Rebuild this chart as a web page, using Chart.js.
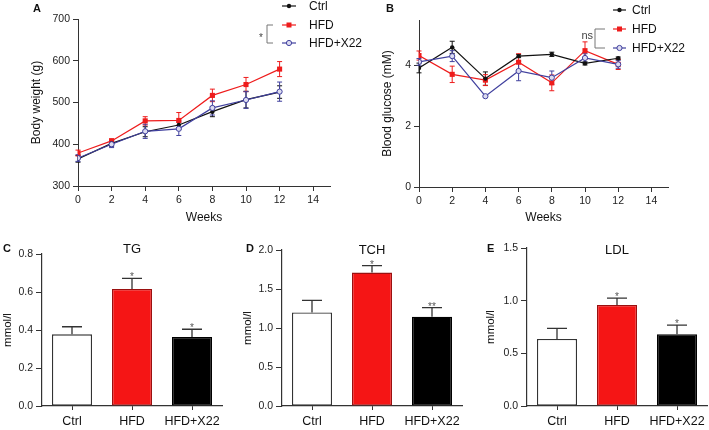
<!DOCTYPE html>
<html lang="en">
<head>
<meta charset="UTF-8">
<title>Body weight, glucose and lipids</title>
<script src="https://cdn.jsdelivr.net/npm/chart.js"></script>
<style>
    body { margin: 0; background: #fff; }
    #wrap { position: relative; width: 709px; height: 430px; background: #fff; overflow: hidden; }
    #wrap canvas { position: absolute; }
</style>
</head>
<body>
<div id="wrap">
    <canvas id="cB" width="364" height="230" style="left:345px;top:0"></canvas>
    <canvas id="cA" width="368" height="230" style="left:0;top:0"></canvas>
    <canvas id="cC" width="240" height="200" style="left:0;top:230px"></canvas>
    <canvas id="cD" width="235" height="200" style="left:240px;top:230px"></canvas>
    <canvas id="cE" width="234" height="200" style="left:475px;top:230px"></canvas>
</div>
<script>
    // --- データ ---
    const weeks = [0, 2, 4, 6, 8, 10, 12];
    const weekTicks = [0, 2, 4, 6, 8, 10, 12, 14];

    // A: body weight (g)
    const bwCtrl = [365, 402, 430, 446, 478, 507, 525];
    const bwCtrlErr = [8, 7, 12, 10, 12, 20, 15];
    const bwHfd = [379, 408, 456, 457, 517, 543, 580];
    const bwHfdErr = [7, 5, 10, 19, 15, 17, 18];
    const bwX22 = [367, 400, 431, 437, 487, 506, 526];
    const bwX22Err = [8, 8, 17, 16, 17, 20, 23];

    // B: blood glucose (mM)
    const bgCtrl = [3.92, 4.60, 3.57, 4.31, 4.37, 4.07, 4.24];
    const bgCtrlErr = [0.16, 0.2, 0.22, 0.05, 0.07, 0.05, 0.04];
    const bgHfd = [4.33, 3.71, 3.52, 4.11, 3.43, 4.49, 4.04];
    const bgHfdErr = [0.15, 0.27, 0.18, 0.28, 0.26, 0.29, 0.17];
    const bgX22 = [4.12, 4.31, 2.99, 3.82, 3.60, 4.25, 4.04];
    const bgX22Err = [0.11, 0.18, 0.03, 0.32, 0.22, 0.14, 0.13];

    // C-E: serum lipids (mmol/l)
    const groups = ['Ctrl', 'HFD', 'HFD+X22'];
    const tgMean = [0.377, 0.616, 0.363];
    const tgErr = [0.04, 0.056, 0.041];
    const tgStars = ['', '*', '*'];
    const tchMean = [1.20, 1.71, 1.145];
    const tchErr = [0.155, 0.09, 0.115];
    const tchStars = ['', '*', '**'];
    const ldlMean = [0.637, 0.96, 0.68];
    const ldlErr = [0.10, 0.064, 0.087];
    const ldlStars = ['', '*', '*'];

    const FONT = '"Liberation Sans", Arial, Helvetica, sans-serif';
    Chart.defaults.font.family = FONT;
    Chart.defaults.color = '#222';

    const AXIS = '#333';
    const RED = '#ee1c1c';
    const BLUE = '#40409e';

    // 装飾（パネル文字・タイトル・凡例）
    const decorSpec = {
        cA: {
            letter: ['A', 33, 9],
            legend: { x0: 282, x1: 296, tx: 309, rows: [6, 25, 43] },
            bracket: { x: 267, x2: 273, y0: 25, y1: 43, text: '*', tx: 263, ty: 38, size: 10 }
        },
        cB: {
            letter: ['B', 41, 9],
            legend: { x0: 268, x1: 281, tx: 287, rows: [10, 29, 48] },
            bracket: { x: 250, x2: 260, y0: 29, y1: 48, text: 'ns', tx: 248, ty: 36, size: 11 }
        },
        cC: { letter: ['C', 3, 19], title: ['TG', 19] },
        cD: { letter: ['D', 6, 19], title: ['TCH', 20] },
        cE: { letter: ['E', 12, 19], title: ['LDL', 20] }
    };

    const legendItems = [
        { label: 'Ctrl', color: '#111', style: 'dot' },
        { label: 'HFD', color: RED, style: 'square' },
        { label: 'HFD+X22', color: BLUE, style: 'open' }
    ];

    function drawMarker(ctx, style, color, x, y) {
        ctx.beginPath();
        if (style === 'square') {
            ctx.fillStyle = color;
            ctx.fillRect(x - 2.5, y - 2.5, 5, 5);
        } else if (style === 'open') {
            ctx.arc(x, y, 2.6, 0, Math.PI * 2);
            ctx.fillStyle = '#dcdcf0';
            ctx.fill();
            ctx.lineWidth = 1;
            ctx.strokeStyle = color;
            ctx.stroke();
        } else {
            ctx.arc(x, y, 2.2, 0, Math.PI * 2);
            ctx.fillStyle = color;
            ctx.fill();
        }
    }

    const decor = {
        id: 'decor',
        afterDraw(chart) {
            const spec = decorSpec[chart.canvas.id];
            if (!spec) return;
            const ctx = chart.ctx;
            ctx.save();
            ctx.textBaseline = 'middle';
            if (spec.letter) {
                ctx.font = 'bold 11px ' + FONT;
                ctx.fillStyle = '#111';
                ctx.textAlign = 'left';
                ctx.fillText(spec.letter[0], spec.letter[1], spec.letter[2]);
            }
            if (spec.title) {
                const a = chart.chartArea;
                ctx.font = '13px ' + FONT;
                ctx.fillStyle = '#111';
                ctx.textAlign = 'center';
                ctx.fillText(spec.title[0], (a.left + a.right) / 2, spec.title[1]);
            }
            if (spec.legend) {
                const L = spec.legend;
                legendItems.forEach((it, i) => {
                    const y = L.rows[i];
                    ctx.strokeStyle = it.color;
                    ctx.lineWidth = 1.2;
                    ctx.beginPath();
                    ctx.moveTo(L.x0, y);
                    ctx.lineTo(L.x1, y);
                    ctx.stroke();
                    drawMarker(ctx, it.style, it.color, (L.x0 + L.x1) / 2, y);
                    ctx.font = '12px ' + FONT;
                    ctx.fillStyle = '#111';
                    ctx.textAlign = 'left';
                    ctx.fillText(it.label, L.tx, y + 0.5);
                });
            }
            if (spec.bracket) {
                const b = spec.bracket;
                ctx.strokeStyle = '#777';
                ctx.lineWidth = 1;
                ctx.beginPath();
                ctx.moveTo(b.x2, b.y0);
                ctx.lineTo(b.x, b.y0);
                ctx.lineTo(b.x, b.y1);
                ctx.lineTo(b.x2, b.y1);
                ctx.stroke();
                ctx.font = b.size + 'px ' + FONT;
                ctx.fillStyle = '#444';
                ctx.textAlign = 'right';
                ctx.fillText(b.text, b.tx, b.ty);
            }
            ctx.restore();
        }
    };

    // エラーバー（折れ線）
    const lineErr = {
        id: 'lineErr',
        beforeDatasetsDraw(chart) {
            if (chart.config.type !== 'line') return;
            const ctx = chart.ctx;
            const ys = chart.scales.y;
            ctx.save();
            chart.data.datasets.forEach((ds, di) => {
                const meta = chart.getDatasetMeta(di);
                ctx.strokeStyle = ds.borderColor;
                ctx.lineWidth = 1;
                meta.data.forEach((pt, i) => {
                    const hi = ys.getPixelForValue(ds.data[i] + ds.errs[i]);
                    const lo = ys.getPixelForValue(ds.data[i] - ds.errs[i]);
                    ctx.beginPath();
                    ctx.moveTo(pt.x, hi);
                    ctx.lineTo(pt.x, lo);
                    ctx.moveTo(pt.x - 2.5, hi);
                    ctx.lineTo(pt.x + 2.5, hi);
                    ctx.moveTo(pt.x - 2.5, lo);
                    ctx.lineTo(pt.x + 2.5, lo);
                    ctx.stroke();
                });
            });
            ctx.restore();
        }
    };

    // エラーバー（棒）と有意差マーク
    const barErr = {
        id: 'barErr',
        afterDatasetsDraw(chart) {
            if (chart.config.type !== 'bar') return;
            const ctx = chart.ctx;
            const ys = chart.scales.y;
            const ds = chart.data.datasets[0];
            const meta = chart.getDatasetMeta(0);
            ctx.save();
            meta.data.forEach((bar, i) => {
                const top = ys.getPixelForValue(ds.data[i] + ds.errs[i]);
                const hw = bar.width / 4;
                ctx.strokeStyle = '#333';
                ctx.lineWidth = 1.3;
                ctx.beginPath();
                ctx.moveTo(bar.x, bar.y);
                ctx.lineTo(bar.x, top);
                ctx.moveTo(bar.x - hw, top);
                ctx.lineTo(bar.x + hw, top);
                ctx.stroke();
                if (ds.stars[i]) {
                    ctx.font = '10px ' + FONT;
                    ctx.fillStyle = '#555';
                    ctx.textAlign = 'center';
                    ctx.textBaseline = 'alphabetic';
                    ctx.fillText(ds.stars[i], bar.x, top + 2);
                }
            });
            ctx.restore();
        }
    };

    function lineDatasets(ctrl, ctrlErr, hfd, hfdErr, x22, x22Err) {
        return [
            { label: 'Ctrl', data: ctrl, errs: ctrlErr, order: 1, borderColor: '#111', backgroundColor: '#111',
              pointStyle: 'circle', pointRadius: 2.2, pointBorderWidth: 0, borderWidth: 1.2 },
            { label: 'HFD', data: hfd, errs: hfdErr, order: 2, borderColor: RED, backgroundColor: RED,
              pointStyle: 'rect', pointRadius: 3.6, pointBorderWidth: 0, borderWidth: 1.2 },
            { label: 'HFD+X22', data: x22, errs: x22Err, order: 0, borderColor: BLUE, backgroundColor: '#dcdcf0',
              pointStyle: 'circle', pointRadius: 2.6, pointBorderWidth: 1, borderWidth: 1.2 }
        ];
    }

    function lineChart(id, o) {
        return new Chart(document.getElementById(id), {
            type: 'line',
            data: {
                labels: weeks,
                datasets: lineDatasets(o.a, o.ae, o.b, o.be, o.c, o.ce)
            },
            options: {
                responsive: false,
                animation: false,
                layout: { padding: { left: 0, top: o.top, right: o.right, bottom: 0 } },
                plugins: { legend: { display: false }, tooltip: { enabled: false } },
                elements: { line: { tension: 0 } },
                scales: {
                    x: {
                        type: 'linear', min: 0, max: 15,
                        ticks: { stepSize: 2, padding: 3, font: { size: 10.5 }, color: '#222' },
                        afterBuildTicks: s => { s.ticks = weekTicks.map(v => ({ value: v })); },
                        grid: { drawOnChartArea: false, tickLength: 5, color: AXIS },
                        border: { color: AXIS, width: 1 },
                        title: { display: true, text: 'Weeks', font: { size: 12 }, color: '#111', padding: { top: 0, bottom: 5 } },
                        afterFit: s => { s.height = o.xh; }
                    },
                    y: {
                        min: o.ymin, max: o.ymax,
                        ticks: { stepSize: o.step, padding: 3, font: { size: 10.5 }, color: '#222' },
                        afterBuildTicks: s => { s.ticks = o.yticks.map(v => ({ value: v })); },
                        grid: { drawOnChartArea: false, tickLength: 5, color: AXIS },
                        border: { color: AXIS, width: 1 },
                        title: { display: true, text: o.ytitle, font: { size: 12 }, color: '#111', padding: { top: o.tpad, bottom: 0 } },
                        afterFit: s => { s.width = o.yw; }
                    }
                }
            },
            plugins: [lineErr, decor]
        });
    }

    function barChart(id, o) {
        return new Chart(document.getElementById(id), {
            type: 'bar',
            data: {
                labels: groups,
                datasets: [{
                    data: o.mean, errs: o.err, stars: o.stars,
                    backgroundColor: ['#ffffff', '#f51515', '#000000'],
                    borderColor: ['#333333', '#9a1010', '#000000'],
                    borderWidth: 1.3,
                    borderSkipped: false,
                    categoryPercentage: 1,
                    barPercentage: 0.667
                }]
            },
            options: {
                responsive: false,
                animation: false,
                layout: { padding: { left: 0, top: o.top, right: o.right, bottom: 0 } },
                plugins: { legend: { display: false }, tooltip: { enabled: false } },
                scales: {
                    x: {
                        ticks: { padding: 4, font: { size: 12.5 }, color: '#111',
                                 maxRotation: 0, minRotation: 0, autoSkip: false },
                        grid: { drawOnChartArea: false, tickLength: 4, color: AXIS, offset: false },
                        border: { color: AXIS, width: 1.2 },
                        afterFit: s => { s.height = 24; }
                    },
                    y: {
                        min: 0, max: o.max,
                        ticks: { stepSize: o.step, padding: 3, font: { size: 10.5 }, color: '#222',
                                 callback: v => v.toFixed(1) },
                        grid: { drawOnChartArea: false, tickLength: 6, color: AXIS },
                        border: { color: AXIS, width: 1.2 },
                        title: { display: true, text: 'mmol/l', font: { size: 11.5 }, color: '#111', padding: { top: o.tpad, bottom: 0 } },
                        afterFit: s => { s.width = o.yw; }
                    }
                }
            },
            plugins: [barErr, decor]
        });
    }

    lineChart('cA', {
        a: bwCtrl, ae: bwCtrlErr, b: bwHfd, be: bwHfdErr, c: bwX22, ce: bwX22Err,
        ymin: 300, ymax: 700, step: 100, yticks: [300, 400, 500, 600, 700],
        ytitle: 'Body weight (g)', tpad: 29, yw: 78, xh: 44, top: 19, right: 38
    });

    lineChart('cB', {
        a: bgCtrl, ae: bgCtrlErr, b: bgHfd, be: bgHfdErr, c: bgX22, ce: bgX22Err,
        ymin: 0, ymax: 5.5, step: 2, yticks: [0, 2, 4],
        ytitle: 'Blood glucose (mM)', tpad: 35, yw: 74, xh: 43, top: 20, right: 41
    });

    barChart('cC', { mean: tgMean, err: tgErr, stars: tgStars, max: 0.8, step: 0.2, tpad: 1, yw: 42, top: 24, right: 18 });
    barChart('cD', { mean: tchMean, err: tchErr, stars: tchStars, max: 2.0, step: 0.5, tpad: 1, yw: 42, top: 20, right: 13 });
    barChart('cE', { mean: ldlMean, err: ldlErr, stars: ldlStars, max: 1.5, step: 0.5, tpad: 9, yw: 52, top: 18, right: 2 });
</script>
</body>
</html>
